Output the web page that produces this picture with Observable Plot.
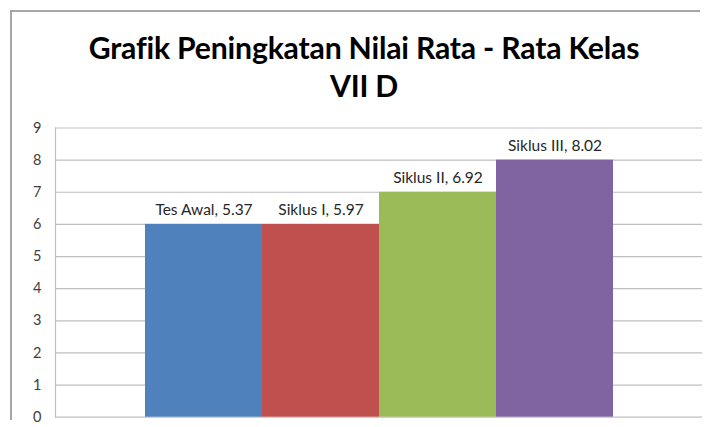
<!DOCTYPE html>
<html><head><meta charset="utf-8">
<script src="https://cdn.jsdelivr.net/npm/d3@7"></script>
<script src="https://cdn.jsdelivr.net/npm/@observablehq/plot@0.6"></script>
<style>
html,body{margin:0;padding:0;background:#fff;overflow:hidden;}
::-webkit-scrollbar{display:none;width:0;height:0;}
#ftop{position:absolute;left:10px;top:10px;width:690px;height:1.5px;background:#a6a6a6;}
#fleft{position:absolute;left:10px;top:10px;width:1.5px;height:410px;background:#a6a6a6;}
#title{position:absolute;left:24px;width:680px;top:28px;text-align:center;font-family:Lato,"Open Sans",sans-serif;font-weight:bold;font-size:30.2px;line-height:38px;color:#000;letter-spacing:-0.2px;white-space:nowrap;}
#chart{position:absolute;left:0;top:110px;}
</style></head>
<body>
<div id="ftop"></div>
<div id="fleft"></div>
<div id="title">Grafik Peningkatan Nilai Rata - Rata Kelas<br>VII D</div>
<div id="chart"></div>
<script>
const categories = ["Tes Awal", "Siklus I", "Siklus II", "Siklus III"];
const barHeights = [6, 6, 7, 8];            // heights as drawn in the picture
const labelValues = [5.37, 5.97, 6.92, 8.02]; // values printed in the data labels
const colors = ["#4F81BD", "#C0504D", "#9BBB59", "#8064A2"];
const yTicks = [0, 1, 2, 3, 4, 5, 6, 7, 8, 9];

const data = categories.map((c, i) => ({cat: c, h: barHeights[i], v: labelValues[i], col: colors[i]}));

const chart = Plot.plot({
  width: 709,
  height: 317,
  marginTop: 17.5,
  marginBottom: 10.3,
  marginLeft: 55,
  marginRight: 7,
  style: {fontFamily: "Lato, 'Open Sans', sans-serif", fontSize: "14px", color: "#404040"},
  x: {type: "band", domain: categories, paddingInner: 0, paddingOuter: 0.756, axis: null},
  y: {domain: [0, 9], ticks: yTicks, tickSize: 0, tickPadding: 14, label: null},
  color: {type: "identity"},
  marks: [
    Plot.ruleY(yTicks, {stroke: "#bfbfbf", strokeWidth: 1.2}),
    Plot.frame({anchor: "left", stroke: "#bfbfbf", strokeWidth: 1.2}),
    Plot.barY(data, {x: "cat", y: "h", fill: "col"}),
    Plot.text(data, {x: "cat", y: "h", text: d => `${d.cat}, ${d.v}`, lineAnchor: "bottom", dy: -9, fill: "#262626", fontSize: 15.5}),
    Plot.axisY({ticks: yTicks, tickSize: 0, tickPadding: 14, fontSize: 14.5, fill: "#404040"})
  ]
});
document.getElementById("chart").appendChild(chart);
</script>
</body></html>
